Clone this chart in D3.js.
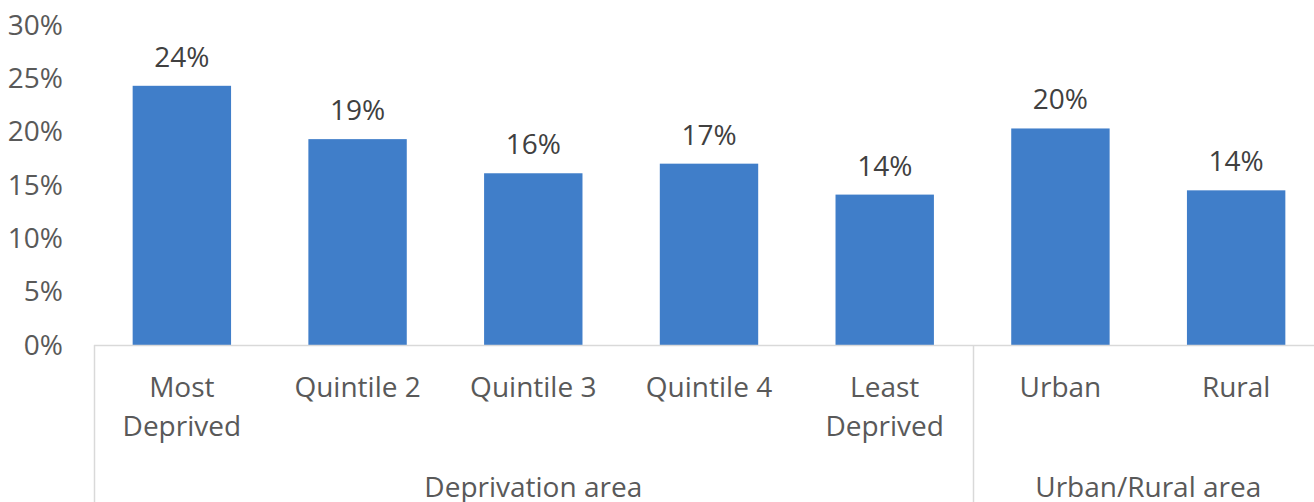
<!DOCTYPE html>
<html><head><meta charset="utf-8">
<script src="https://cdn.jsdelivr.net/npm/d3@7"></script>
<style>body{margin:0;background:#fff;} svg{display:block;}</style>
</head><body>
<svg id="c" width="1314" height="502"></svg>
<script>
const categories = ["Most Deprived","Quintile 2","Quintile 3","Quintile 4","Least Deprived","Urban","Rural"];
const categoryLines = [["Most","Deprived"],["Quintile 2"],["Quintile 3"],["Quintile 4"],["Least","Deprived"],["Urban"],["Rural"]];
const values = [0.243, 0.193, 0.161, 0.170, 0.141, 0.203, 0.145];
const valueLabels = ["24%","19%","16%","17%","14%","20%","14%"];
const groups = ["Deprivation area","Urban/Rural area"];
const groupSizes = [5, 2];
const yTicks = [0,0.05,0.10,0.15,0.20,0.25,0.30];

const svg = d3.select("#c");
const font = "'Open Sans', sans-serif";
const x = d3.scaleBand().domain(categories).range([94, 1324]).paddingInner(0.44).paddingOuter(0.22);
const y = d3.scaleLinear().domain([0, 0.30]).range([345, 25]);

// y tick labels
svg.append("g").selectAll("text").data(yTicks).join("text")
  .attr("x", 63).attr("y", d => y(d)).attr("dy", "0.35em")
  .attr("text-anchor", "end").attr("font-family", font).attr("font-size", 28)
  .attr("fill", "#595959").text(d => d3.format(".0%")(d));

// bars
svg.append("g").selectAll("rect").data(values).join("rect")
  .attr("x", (d,i) => x(categories[i])).attr("width", x.bandwidth())
  .attr("y", d => y(d)).attr("height", d => y(0) - y(d))
  .attr("fill", "#407ec9");

// value labels
svg.append("g").selectAll("text").data(values).join("text")
  .attr("x", (d,i) => x(categories[i]) + x.bandwidth()/2).attr("y", d => y(d) - 19)
  .attr("text-anchor", "middle").attr("font-family", font).attr("font-size", 28)
  .attr("fill", "#404040").text((d,i) => valueLabels[i]);

// axis line
const step = x.step();
const x0 = x.range()[0];
svg.append("line").attr("x1", x0).attr("x2", x.range()[1]).attr("y1", y(0)+0.5).attr("y2", y(0)+0.5)
  .attr("stroke", "#d9d9d9").attr("stroke-width", 1.5);

// separators
let cum = 0;
const seps = [0];
groupSizes.forEach(g => { cum += g; seps.push(cum); });
svg.append("g").selectAll("line").data(seps).join("line")
  .attr("x1", d => Math.round(x0 + d*step)+0.5).attr("x2", d => Math.round(x0 + d*step)+0.5)
  .attr("y1", y(0)).attr("y2", 502).attr("stroke", "#d9d9d9").attr("stroke-width", 1.5);

// category labels
const cl = svg.append("g").selectAll("text").data(categoryLines).join("text")
  .attr("text-anchor", "middle").attr("font-family", font).attr("font-size", 28).attr("fill", "#595959")
  .attr("x", (d,i) => x(categories[i]) + x.bandwidth()/2);
cl.selectAll("tspan").data((d,i) => d.map(t => ({t, cx: x(categories[i]) + x.bandwidth()/2}))).join("tspan")
  .attr("x", d => d.cx).attr("y", (d,j) => 397 + j*39).text(d => d.t);

// group labels
svg.append("g").selectAll("text").data(groups).join("text")
  .attr("x", (d,i) => x0 + (seps[i] + seps[i+1]) / 2 * step).attr("y", 497)
  .attr("text-anchor", "middle").attr("font-family", font).attr("font-size", 28).attr("fill", "#595959")
  .text(d => d);
</script>
</body></html>
